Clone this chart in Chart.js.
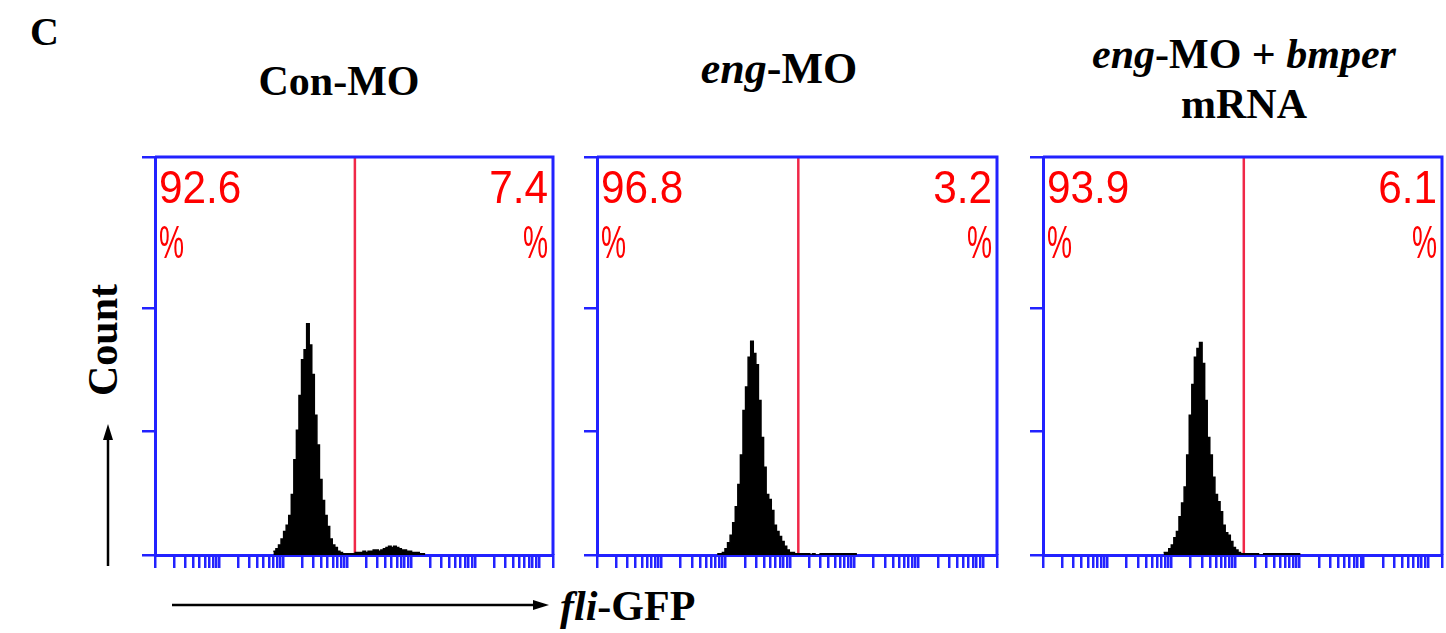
<!DOCTYPE html>
<html>
<head>
<meta charset="utf-8">
<script src="https://cdn.jsdelivr.net/npm/chart.js@4.4.0/dist/chart.umd.min.js"></script>
<style>
  body { margin: 0; background: #fff; width: 1446px; height: 633px; position: relative; overflow: hidden; font-family: "Liberation Serif", "Times New Roman", serif; }
  .lbl { position: absolute; font-weight: bold; font-size: 42px; line-height: 1; color: #000; white-space: nowrap; }
  .ctr { transform: translateX(-50%); }
  .panel { position: absolute; width: 430px; height: 430px; }
  svg { position: absolute; left: 0; top: 0; }
</style>
</head>
<body>
<div class="lbl" style="left:30px;top:12px;font-size:40px">C</div>
<div class="lbl ctr" style="left:339px;top:60px">Con-MO</div>
<div class="lbl ctr" style="left:779px;top:47px;font-size:44px"><i>eng</i>-MO</div>
<div class="lbl ctr" style="left:1244px;top:33px"><i>eng</i>-MO + <i>bmper</i></div>
<div class="lbl ctr" style="left:1244px;top:83px">mRNA</div>
<div class="lbl" style="left:103px;top:340px;transform:translate(-50%,-50%) rotate(-90deg)">Count</div>
<div class="lbl" style="left:560px;top:585px"><i>fli</i>-GFP</div>

<svg width="1446" height="633">
  <line x1="108" y1="566" x2="108" y2="438" stroke="#000" stroke-width="2.5"/>
  <polygon points="108,424 103,440 113,440" fill="#000"/>
  <line x1="172" y1="605" x2="535" y2="605" stroke="#000" stroke-width="2.5"/>
  <polygon points="549,605 533,600 533,610" fill="#000"/>
</svg>

<div class="panel" id="p0"><canvas id="c0"></canvas></div>
<div class="panel" id="p1"><canvas id="c1"></canvas></div>
<div class="panel" id="p2"><canvas id="c2"></canvas></div>

<script>
// fli-GFP histograms, bins of 0.04 decade starting at the given log10 value
const binStep = 0.04;
const conStart = 1.85;
const conCounts = [3, 5, 8, 13, 19, 24, 32, 49, 77, 101, 129, 158, 166, 187, 170, 146, 113, 89, 61, 44, 32, 23, 13, 8, 6, 3, 2, 1, 1, 1, 1, 1,
  2, 2, 2, 3, 2, 3, 3, 4, 4, 3, 4, 5, 6, 7, 6, 7, 6, 5, 4, 4, 3, 3, 2, 2, 2, 1, 1];
const engStart = 1.87;
const engCounts = [1, 1, 2, 5, 10, 16, 26, 39, 57, 81, 117, 136, 160, 173, 163, 154, 125, 95, 71, 49, 45, 36, 24, 19, 15, 11, 7, 4, 2, 2,
  1, 1, 1, 1, 1, 1, 0, 1, 0, 0, 1, 1, 1, 1, 1, 1, 1, 1, 1, 1, 1, 1, 1, 1];
const rescueStart = 1.88;
const rescueCounts = [2, 2, 5, 8, 14, 19, 31, 42, 55, 81, 113, 138, 160, 167, 172, 155, 125, 95, 81, 63, 49, 43, 35, 24, 18, 16, 11, 6, 4, 2,
  1, 1, 1, 1, 1, 1, 1, 0, 0, 1, 1, 1, 1, 1, 1, 1, 1, 1, 1, 1, 1, 1, 1];

const gates = [1330, 1350, 1350];
const leftPct = ['92.6', '96.8', '93.9'];
const rightPct = ['7.4', '3.2', '6.1'];

// axes
const xMin = 1;
const xMax = 1659586;
const decades = [1, 10, 100, 1000, 10000, 100000, 1000000];
const minorSteps = [1, 2, 3, 4, 5, 6, 7, 8, 9];
const yMax = 322;
const yTicks = [0, 100, 200, 322];

const BLUE = '#2222ff';
const boxes = [
  { x: 155, y: 157, w: 398, h: 398 },
  { x: 597, y: 157, w: 400, h: 398 },
  { x: 1043, y: 157, w: 399, h: 398 }
];

const xTickValues = [];
decades.forEach(d => minorSteps.forEach(m => { if (m * d <= xMax) xTickValues.push(m * d); }));
xTickValues.push(xMax);

function histPoints(start, counts) {
  const pts = counts.map((c, i) => ({ x: Math.pow(10, start + i * binStep), y: c }));
  pts.push({ x: Math.pow(10, start + counts.length * binStep), y: 0 });
  return pts;
}

function narrowText(ctx, txt, x, y, align, sx) {
  ctx.save();
  ctx.translate(x, y);
  ctx.scale(sx, 1);
  ctx.textAlign = align;
  ctx.fillText(txt, 0, 0);
  ctx.restore();
}

const frame = {
  id: 'frame',
  afterDraw(chart) {
    const { ctx, chartArea: a } = chart;
    ctx.save();
    ctx.strokeStyle = BLUE;
    ctx.lineWidth = 3;
    ctx.beginPath();
    ctx.moveTo(a.left, a.top);
    ctx.lineTo(a.right, a.top);
    ctx.lineTo(a.right, a.bottom);
    ctx.stroke();
    ctx.restore();
  }
};

const pctLabels = {
  id: 'pctLabels',
  afterDatasetsDraw(chart, args, opts) {
    const { ctx, chartArea: a } = chart;
    ctx.save();
    ctx.fillStyle = '#ff0000';
    ctx.font = '47px "Liberation Sans", Arial, sans-serif';
    ctx.textBaseline = 'alphabetic';
    narrowText(ctx, opts.left, a.left + 4, a.top + 46, 'left', 0.9);
    narrowText(ctx, '%', a.left + 4, a.top + 101, 'left', 0.6);
    narrowText(ctx, opts.right, a.right - 5, a.top + 46, 'right', 0.9);
    narrowText(ctx, '%', a.right - 5, a.top + 101, 'right', 0.6);
    ctx.restore();
  }
};

function makePanel(i, start, counts) {
  const wrap = document.getElementById('p' + i);
  const chart = new Chart(document.getElementById('c' + i), {
    type: 'line',
    data: {
      datasets: [
        {
          data: histPoints(start, counts),
          stepped: 'before',
          fill: 'origin',
          backgroundColor: '#000',
          borderColor: '#000',
          borderWidth: 1.5,
          pointRadius: 0
        },
        {
          data: [{ x: gates[i], y: 0 }, { x: gates[i], y: yMax }],
          borderColor: '#f02848',
          borderWidth: 2.5,
          fill: false,
          pointRadius: 0
        }
      ]
    },
    options: {
      responsive: true,
      maintainAspectRatio: false,
      animation: false,
      layout: { padding: { top: 4, right: 4, left: 0, bottom: 0 } },
      plugins: {
        legend: { display: false },
        tooltip: { enabled: false },
        pctLabels: { left: leftPct[i], right: rightPct[i] }
      },
      scales: {
        x: {
          type: 'logarithmic',
          min: xMin,
          max: xMax,
          afterBuildTicks: s => { s.ticks = xTickValues.map(v => ({ value: v })); },
          ticks: { display: false },
          grid: { drawOnChartArea: false, drawTicks: true, tickLength: 13, color: BLUE, lineWidth: 2.5 },
          border: { color: BLUE, width: 3 }
        },
        y: {
          min: 0,
          max: yMax,
          afterBuildTicks: s => { s.ticks = yTicks.map(v => ({ value: v })); },
          ticks: { display: false },
          grid: { drawOnChartArea: false, drawTicks: true, tickLength: 13, color: BLUE, lineWidth: 2.5 },
          border: { color: BLUE, width: 3 }
        }
      }
    },
    plugins: [frame, pctLabels]
  });

  const b = boxes[i];
  let a = chart.chartArea;
  const w = wrap.clientWidth + b.w - (a.right - a.left);
  const h = wrap.clientHeight + b.h - (a.bottom - a.top);
  wrap.style.width = w + 'px';
  wrap.style.height = h + 'px';
  chart.resize(w, h);
  a = chart.chartArea;
  wrap.style.left = (b.x - a.left) + 'px';
  wrap.style.top = (b.y - a.top) + 'px';
}

makePanel(0, conStart, conCounts);
makePanel(1, engStart, engCounts);
makePanel(2, rescueStart, rescueCounts);
</script>
</body>
</html>
